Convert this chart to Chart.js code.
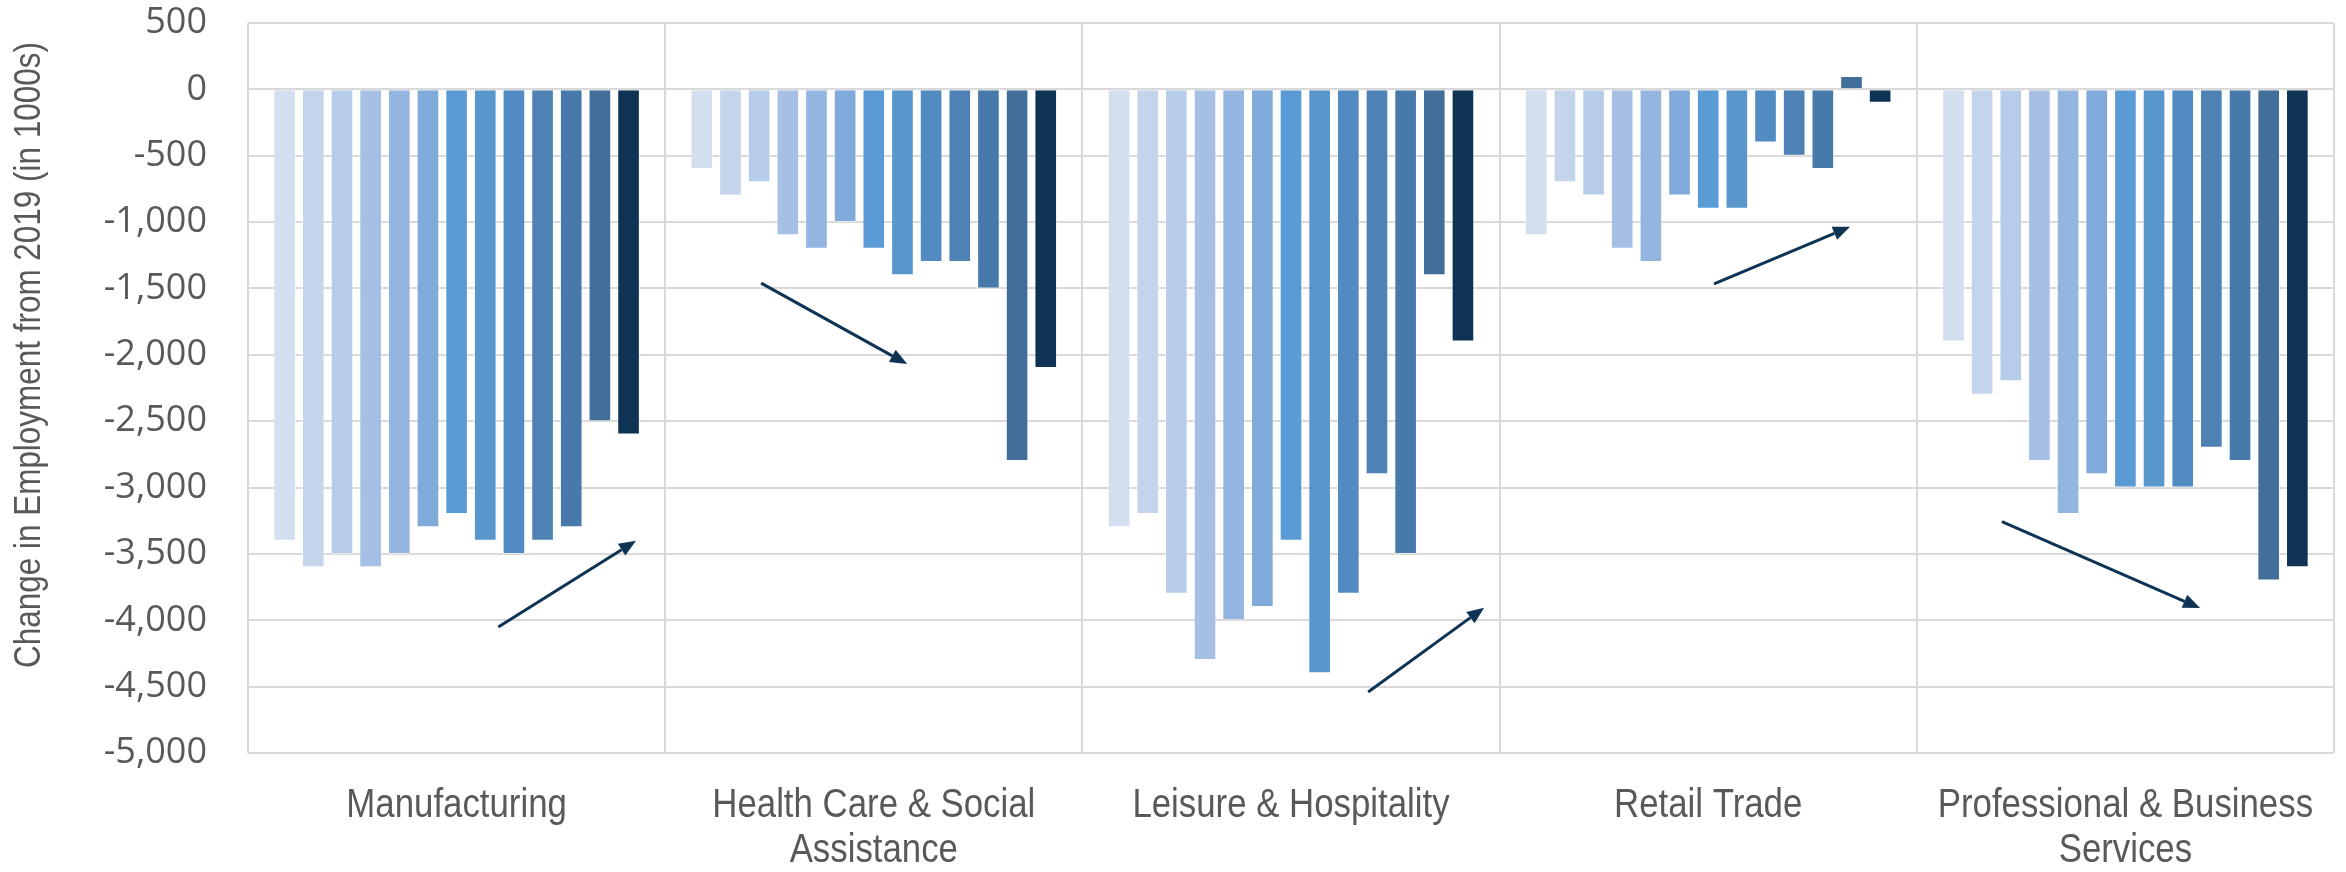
<!DOCTYPE html>
<html>
<head>
<meta charset="utf-8">
<script src="https://cdn.jsdelivr.net/npm/chart.js@4/dist/chart.umd.min.js"></script>
<style>
    body { margin: 0; background: #ffffff; }
    #wrap { width: 2346px; height: 872px; position: relative; }
</style>
</head>
<body>
<div id="wrap"><canvas id="employmentChart"></canvas></div>
<script>
// Categories (industries)
const categories = [
    'Manufacturing',
    ['Health Care & Social', 'Assistance'],
    'Leisure & Hospitality',
    'Retail Trade',
    ['Professional & Business', 'Services']
];

// 13 periods per industry, change from 2019 (in 1000s)
const manufacturing = [-3400, -3600, -3500, -3600, -3500, -3300, -3200, -3400, -3500, -3400, -3300, -2500, -2600];
const healthCare    = [-600, -800, -700, -1100, -1200, -1000, -1200, -1400, -1300, -1300, -1500, -2800, -2100];
const leisure       = [-3300, -3200, -3800, -4300, -4000, -3900, -3400, -4400, -3800, -2900, -3500, -1400, -1900];
const retail        = [-1100, -700, -800, -1200, -1300, -800, -900, -900, -400, -500, -600, 100, -100];
const professional  = [-1900, -2300, -2200, -2800, -3200, -2900, -3000, -3000, -3000, -2700, -2800, -3700, -3600];

const periodLabels = ['Period 1', 'Period 2', 'Period 3', 'Period 4', 'Period 5', 'Period 6', 'Period 7',
                      'Period 8', 'Period 9', 'Period 10', 'Period 11', 'Period 12', 'Period 13'];

const periodColors = ['#D3DEEF', '#C4D4EB', '#B7CCE8', '#A5C0E4', '#94B5DF', '#7FAADA', '#5B9BD5',
                      '#5896CC', '#528BC1', '#4E82B4', '#477AAA', '#426F9A', '#0E3354'];

// Y axis ticks
const yMin = -5000;
const yMax = 500;
const yStep = 500;

const yTitle = 'Change in Employment from 2019 (in 1000s)';

// Trend arrows [fromCategory, fromValue, toCategory, toValue]
const trendArrows = [
    [0.10, -4050, 0.43, -3400],
    [0.73, -1460, 1.08, -2070],
    [2.185, -4540, 2.463, -3905],
    [3.014, -1466, 3.340, -1035],
    [3.704, -3256, 4.179, -3908]
];

const industryRows = [manufacturing, healthCare, leisure, retail, professional];

const datasets = periodLabels.map((label, i) => ({
    label: label,
    data: industryRows.map(row => row[i]),
    backgroundColor: periodColors[i],
    borderColor: 'rgba(255, 255, 255, 0.45)',
    borderWidth: 1,
    categoryPercentage: 0.893,
    barPercentage: 0.79
}));

// no narrow font installed: Liberation Sans squeezed horizontally looks like Arial Narrow
const narrowFont = (size) => size + 'px "Liberation Sans", Arial, sans-serif';

function fillNarrow(ctx, text, x, y, squeeze) {
    ctx.save();
    ctx.translate(x, y);
    ctx.scale(squeeze, 1);
    ctx.fillText(text, 0, 0);
    ctx.restore();
}

// Y title and category labels drawn by hand in the narrow face
const textPlugin = {
    id: 'narrowText',
    afterDraw(chart) {
        const ctx = chart.ctx;
        const xs = chart.scales.x;
        const area = chart.chartArea;
        ctx.save();
        ctx.fillStyle = '#595959';
        ctx.textAlign = 'center';
        ctx.textBaseline = 'middle';

        // y axis title
        ctx.save();
        ctx.translate(30, 355);
        ctx.rotate(-Math.PI / 2);
        ctx.font = narrowFont(37);
        fillNarrow(ctx, yTitle, 0, 0, 0.85);
        ctx.restore();

        // category labels
        ctx.font = narrowFont(40);
        categories.forEach((cat, i) => {
            const lines = Array.isArray(cat) ? cat : [cat];
            const x = xs.getPixelForValue(i);
            lines.forEach((line, j) => {
                fillNarrow(ctx, line, x, area.bottom + 53 + j * 45, 0.87);
            });
        });
        ctx.restore();
    }
};

// Arrows placed in data units
const arrowPlugin = {
    id: 'trendArrows',
    afterDatasetsDraw(chart) {
        const ctx = chart.ctx;
        const xs = chart.scales.x;
        const ys = chart.scales.y;
        ctx.save();
        ctx.strokeStyle = '#0E3354';
        ctx.fillStyle = '#0E3354';
        ctx.lineWidth = 3;
        trendArrows.forEach(a => {
            const x1 = xs.getPixelForValue(a[0]);
            const y1 = ys.getPixelForValue(a[1]);
            const x2 = xs.getPixelForValue(a[2]);
            const y2 = ys.getPixelForValue(a[3]);
            const ang = Math.atan2(y2 - y1, x2 - x1);
            const headLen = 17;
            const headHalf = 7;
            const bx = x2 - headLen * Math.cos(ang);
            const by = y2 - headLen * Math.sin(ang);
            ctx.beginPath();
            ctx.moveTo(x1, y1);
            ctx.lineTo(bx, by);
            ctx.stroke();
            ctx.beginPath();
            ctx.moveTo(x2, y2);
            ctx.lineTo(bx + headHalf * Math.sin(ang), by - headHalf * Math.cos(ang));
            ctx.lineTo(bx - headHalf * Math.sin(ang), by + headHalf * Math.cos(ang));
            ctx.closePath();
            ctx.fill();
        });
        ctx.restore();
    }
};

const ctx = document.getElementById('employmentChart').getContext('2d');
new Chart(ctx, {
    type: 'bar',
    data: {
        labels: categories,
        datasets: datasets
    },
    options: {
        responsive: true,
        maintainAspectRatio: false,
        animation: false,
        layout: {
            padding: { top: 23, right: 12, bottom: 0, left: 0 }
        },
        plugins: {
            legend: { display: false },
            tooltip: { enabled: false }
        },
        scales: {
            x: {
                grid: {
                    display: true,
                    offset: true,
                    drawTicks: false,
                    color: '#D9D9D9',
                    lineWidth: 2
                },
                border: { display: false },
                ticks: {
                    display: false
                },
                afterFit(scale) {
                    scale.height = 119;
                    scale.paddingLeft = 0;
                    scale.paddingRight = 0;
                }
            },
            y: {
                min: yMin,
                max: yMax,
                grid: {
                    color: '#D9D9D9',
                    lineWidth: 2,
                    drawTicks: false
                },
                border: { display: false },
                ticks: {
                    stepSize: yStep,
                    padding: 41,
                    color: '#595959',
                    font: {
                        family: '"Open Sans", sans-serif',
                        size: 36
                    },
                    callback: function(value) {
                        return value.toLocaleString('en-US');
                    }
                },
                afterFit(scale) {
                    scale.width = 248;
                    scale.paddingTop = 0;
                    scale.paddingBottom = 0;
                }
            }
        }
    },
    plugins: [textPlugin, arrowPlugin]
});
</script>
</body>
</html>
